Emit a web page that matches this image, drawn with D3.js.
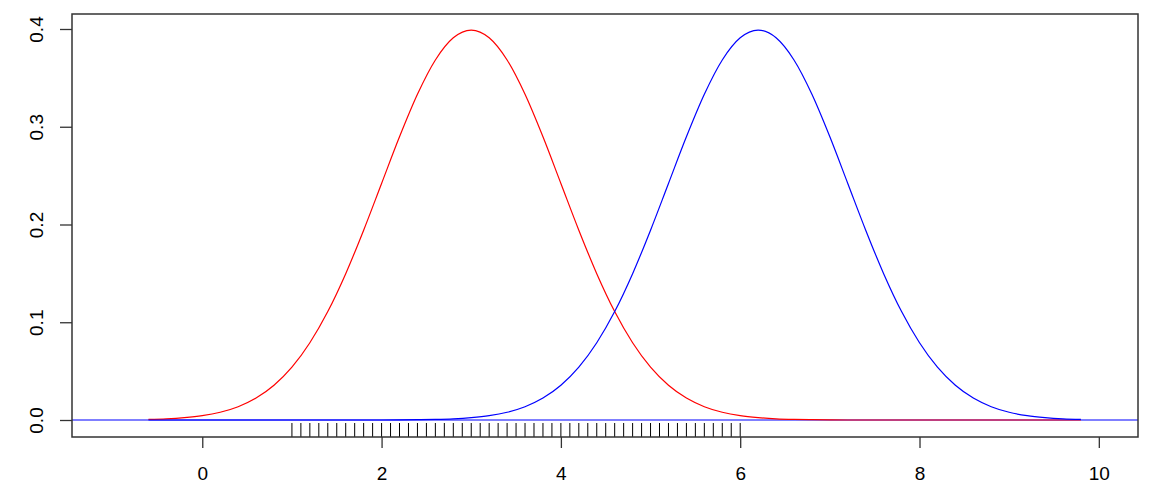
<!DOCTYPE html>
<html><head><meta charset="utf-8">
<script src="https://cdn.jsdelivr.net/npm/d3@7"></script>
<style>body{margin:0;background:#fff}svg{display:block}text{font-family:"Liberation Sans",Arial,sans-serif}</style>
</head><body><svg id="c" width="1163" height="495"></svg>
<script>
const xGrid = [-0.6,-0.4,-0.2,0.0,0.2,0.4,0.6,0.8,1.0,1.2,1.4,1.6,1.8,2.0,2.2,2.4,2.6,2.8,3.0,3.2,3.4,3.6,3.8,4.0,4.2,4.4,4.6,4.8,5.0,5.2,5.4,5.6,5.8,6.0,6.2,6.4,6.6,6.8,7.0,7.2,7.4,7.6,7.8,8.0,8.2,8.4,8.6,8.8,9.0,9.2,9.4,9.6,9.8];
const redY = [0.0006,0.0012,0.0024,0.0044,0.0079,0.0136,0.0224,0.0355,0.0540,0.0790,0.1109,0.1497,0.1942,0.2420,0.2897,0.3332,0.3683,0.3910,0.3989,0.3910,0.3683,0.3332,0.2897,0.2420,0.1942,0.1497,0.1109,0.0790,0.0540,0.0355,0.0224,0.0136,0.0079,0.0044,0.0024,0.0012,0.0006,0.0003,0.0001,0,0,0,0,0,0,0,0,0,0,0,0,0,0];
const blueY = [0,0,0,0,0,0,0,0,0,0,0,0,0,0,0.0001,0.0003,0.0006,0.0012,0.0024,0.0044,0.0079,0.0136,0.0224,0.0355,0.0540,0.0790,0.1109,0.1497,0.1942,0.2420,0.2897,0.3332,0.3683,0.3910,0.3989,0.3910,0.3683,0.3332,0.2897,0.2420,0.1942,0.1497,0.1109,0.0790,0.0540,0.0355,0.0224,0.0136,0.0079,0.0044,0.0024,0.0012,0.0006];
const rugX = [1.0,1.1,1.2,1.3,1.4,1.5,1.6,1.7,1.8,1.9,2.0,2.1,2.2,2.3,2.4,2.5,2.6,2.7,2.8,2.9,3.0,3.1,3.2,3.3,3.4,3.5,3.6,3.7,3.8,3.9,4.0,4.1,4.2,4.3,4.4,4.5,4.6,4.7,4.8,4.9,5.0,5.1,5.2,5.3,5.4,5.5,5.6,5.7,5.8,5.9,6.0];
const xTicks = [0,2,4,6,8,10];
const yTicks = [0.0,0.1,0.2,0.3,0.4];

const L=72,R=1138,T=14,B=437;
const svg=d3.select("#c");
const x=d3.scaleLinear().domain([-1.453,10.437]).range([L,R]);
const y=d3.scaleLinear().domain([-0.01739,0.41534]).range([B,T]);

// horizontal line at 0
svg.append("line").attr("x1",L).attr("x2",R).attr("y1",y(0)).attr("y2",y(0))
  .attr("stroke","#0000ff").attr("stroke-width",1.2);

const line=d3.line().x((d,i)=>x(xGrid[i])).y(d=>y(d)).curve(d3.curveMonotoneX);
svg.append("path").datum(redY).attr("d",line).attr("fill","none").attr("stroke","#ff0000").attr("stroke-width",1.2);
svg.append("path").datum(blueY).attr("d",line).attr("fill","none").attr("stroke","#0000ff").attr("stroke-width",1.2);

// rug
svg.append("g").selectAll("line").data(rugX).join("line")
  .attr("x1",d=>x(d)).attr("x2",d=>x(d)).attr("y1",B).attr("y2",B-14)
  .attr("stroke","#000").attr("stroke-width",1);

// box
svg.append("rect").attr("x",L).attr("y",T).attr("width",R-L).attr("height",B-T)
  .attr("fill","none").attr("stroke","#333").attr("stroke-width",1.5);

// x axis
const xa=svg.append("g").attr("transform",`translate(0,${B})`)
  .call(d3.axisBottom(x).tickValues(xTicks).tickSize(11).tickSizeOuter(0).tickFormat(d3.format("d")));
xa.select(".domain").remove();
xa.selectAll("line").attr("stroke","#333").attr("stroke-width",1.3);
xa.selectAll("text").attr("font-size",19).attr("fill","#000").attr("dy",0).attr("y",43);

// y axis
const ya=svg.append("g").attr("transform",`translate(${L},0)`)
  .call(d3.axisLeft(y).tickValues(yTicks).tickSize(12).tickSizeOuter(0).tickFormat(d3.format(".1f")));
ya.select(".domain").remove();
ya.selectAll("line").attr("stroke","#333").attr("stroke-width",1.3);
ya.selectAll("text").attr("font-size",19).attr("fill","#000")
  .attr("x",0).attr("dy",0).attr("text-anchor","middle")
  .attr("transform","translate(-35,0) rotate(-90)").attr("y",6);
</script></body></html>
